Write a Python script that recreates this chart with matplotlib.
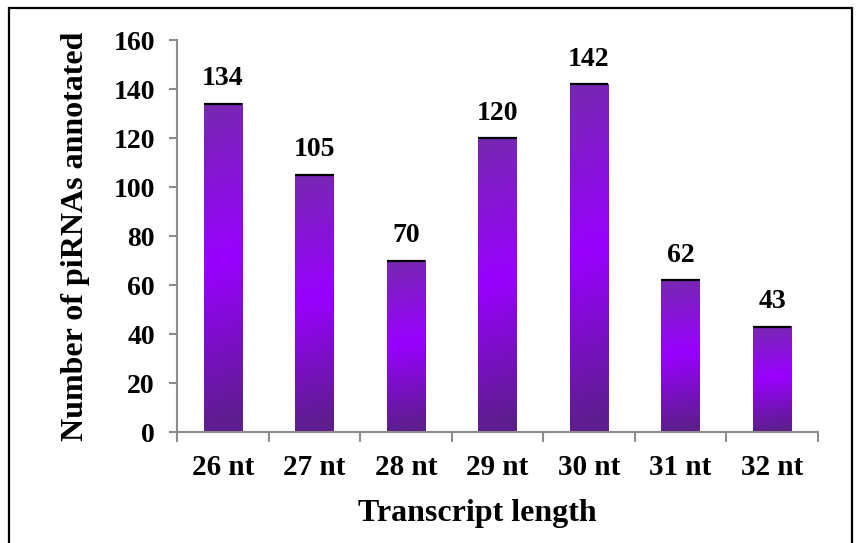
import matplotlib.pyplot as plt
import numpy as np
from matplotlib.colors import LinearSegmentedColormap
from matplotlib.patches import Rectangle

# piRNA counts per transcript length
lengths = ["26 nt", "27 nt", "28 nt", "29 nt", "30 nt", "31 nt", "32 nt"]
counts = [134, 105, 70, 120, 142, 62, 43]

plt.rcParams["font.family"] = ["Liberation Serif", "DejaVu Serif"]
plt.rcParams["font.weight"] = "bold"

fig = plt.figure(figsize=(8.61, 5.43), dpi=100)
ax = fig.add_axes([0.2056, 0.2044, 0.7444, 0.7219])

# purple gradient: dark at bottom, bright violet in the middle, muted at top
cmap = LinearSegmentedColormap.from_list(
    "violet", [(0.0, "#5d1e8d"), (0.5, "#9900ff"), (1.0, "#7628b0")])
grad_y = np.linspace(0, 1, 256).reshape(-1, 1)
grad_x = np.linspace(0, 1, 32).reshape(1, -1)
grad = np.clip(grad_y - 0.04 * grad_x, 0, 1)

width = 0.42
x = np.arange(len(lengths))
for xi, val in zip(x, counts):
    ax.imshow(grad, cmap=cmap, origin="lower", aspect="auto",
              extent=(xi - width / 2, xi + width / 2, 0, val), zorder=2,
              vmin=0, vmax=1)
    ax.hlines(val, xi - width / 2, xi + width / 2, color="black", lw=1.6, zorder=3)
    ax.annotate(str(val), (xi, val), xytext=(0, 9), textcoords="offset points",
                ha="center", va="bottom", fontsize=20, fontweight="bold")

ax.set_xlim(-0.5, len(lengths) - 0.5)
ax.set_ylim(0, 160)
ax.set_yticks(range(0, 161, 20))
ax.set_xticks(x)
ax.set_xticklabels(lengths)
ax.set_xticks(np.arange(-0.5, len(lengths), 1), minor=True)

for side in ["top", "right"]:
    ax.spines[side].set_visible(False)
for side in ["left", "bottom"]:
    ax.spines[side].set_color("#8c8c8c")
    ax.spines[side].set_linewidth(1.5)

ax.tick_params(axis="y", which="major", length=6, width=1.5, color="#8c8c8c",
               labelsize=20, pad=10)
ax.tick_params(axis="x", which="major", length=0, labelsize=21, pad=16)
ax.tick_params(axis="x", which="minor", length=7, width=1.5, color="#8c8c8c")

ax.set_xlabel("Transcript length", fontsize=23, fontweight="bold", labelpad=13)
ax.xaxis.label.set_x(0.468)
ax.set_ylabel("Number of piRNAs annotated", fontsize=23, fontweight="bold", labelpad=17)

# outer frame around the whole chart
fig.patches.append(Rectangle((9 / 861, -0.02), 843 / 861, 1.02 - 8 / 543,
                             transform=fig.transFigure, fill=False,
                             edgecolor="black", linewidth=1.6))

plt.savefig("out.png", dpi=100)
